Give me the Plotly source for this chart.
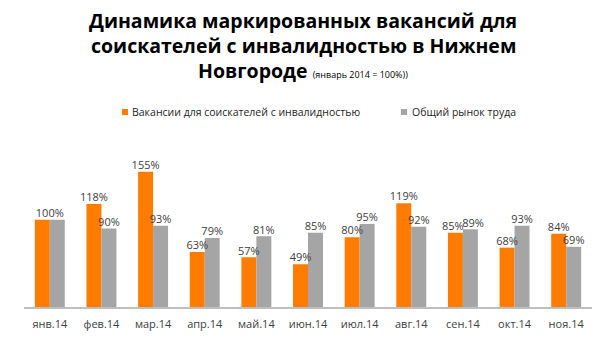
import plotly.graph_objects as go

months = ["янв.14", "фев.14", "мар.14", "апр.14", "май.14", "июн.14", "июл.14", "авг.14", "сен.14", "окт.14", "ноя.14"]
disabled = [100, 118, 155, 63, 57, 49, 80, 119, 85, 68, 84]
market = [100, 90, 93, 79, 81, 85, 95, 92, 89, 93, 69]
series_names = ["Вакансии для соискателей с инвалидностью", "Общий рынок труда"]
colors = ["#FF7C00", "#A5A5A5"]

FONT = "Open Sans"
W = 0.29
idx = list(range(len(months)))

# page body has an 8px margin: figure sits at (8,8) in the window
PX0, PY0, PW, PH = 24, 163, 568, 144   # plot area in window pixels
def xp(wx): return (wx - PX0) / PW
def yp(wy): return (PY0 + PH - wy) / PH

fig = go.Figure()
for vals, name, col, off in ((disabled, series_names[0], colors[0], -W), (market, series_names[1], colors[1], 0)):
    fig.add_trace(go.Bar(x=idx, y=vals, name=name, marker_color=col, width=W, offset=off,
                         marker_line_width=0, showlegend=False))

# data labels (January: both equal, one label centred on the pair;
# labels of near-equal pairs nudged apart so they do not collide)
lab_x, lab_y, lab_t = [], [], []
for i in idx:
    if disabled[i] == market[i]:
        lab_x.append(i); lab_y.append(disabled[i]); lab_t.append(f"{disabled[i]}%")
    else:
        nudge = 0.05 if abs(disabled[i] - market[i]) < 8 else 0.0
        lab_x += [i - W / 2 - nudge, i + W / 2 + nudge]
        lab_y += [disabled[i], market[i]]
        lab_t += [f"{disabled[i]}%", f"{market[i]}%"]
fig.add_trace(go.Scatter(x=lab_x, y=lab_y, mode="text", text=lab_t, textposition="top center",
                         textfont=dict(size=11, color="#404040", family=FONT),
                         showlegend=False, hoverinfo="skip", cliponaxis=False))

shapes = []
ann = []
# manual legend
leg = [(122, 130), (401, 410)]
for (sx, tx), name, col in zip(leg, series_names, colors):
    shapes.append(dict(type="rect", xref="paper", yref="paper", x0=xp(sx), x1=xp(sx + 6),
                       y0=yp(115), y1=yp(109), fillcolor=col, line_width=0))
    ann.append(dict(xref="paper", yref="paper", x=xp(tx), y=yp(112), xanchor="left", yanchor="middle",
                    text=name, showarrow=False, font=dict(size=10.5, color="#262626", family=FONT)))

# title
title_lines = ["<b>Динамика маркированных вакансий для</b>",
               "<b>соискателей с инвалидностью в Нижнем</b>",
               "<b>Новгороде</b> <span style='font-size:9px'>(январь 2014 = 100%))</span>"]
for line, wy in zip(title_lines, (20, 45, 70)):
    ann.append(dict(xref="paper", yref="paper", x=xp(303), y=yp(wy), xanchor="center", yanchor="middle",
                    text=line, showarrow=False, font=dict(size=19.5, color="#000000", family=FONT)))

fig.update_layout(
    width=597, height=347,
    margin=dict(l=PX0 - 8, r=597 - (PX0 + PW - 8), t=PY0 - 8, b=347 - (PY0 + PH - 8)),
    paper_bgcolor="white", plot_bgcolor="white",
    font=dict(family=FONT, color="#404040"),
    showlegend=False,
    shapes=shapes, annotations=ann,
    xaxis=dict(showgrid=False, showline=True, linecolor="#BFBFBF", linewidth=2,
               ticks="", tickvals=idx, ticktext=months, range=[-0.5, len(months) - 0.5],
               zeroline=False, ticklabelstandoff=6,
               tickfont=dict(size=11, color="#404040", family=FONT)),
    yaxis=dict(range=[0, 165], visible=False),
)
fig.write_html("out.html")
